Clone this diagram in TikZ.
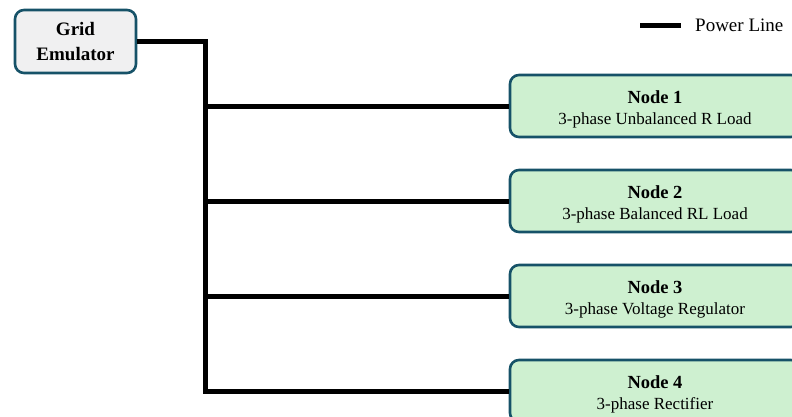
\documentclass[tikz,border=0pt]{standalone}
\usepackage{fontspec}
\setmainfont{Liberation Serif}
\definecolor{edgeteal}{RGB}{22,82,104}
\definecolor{nodegreen}{RGB}{206,240,208}
\definecolor{gridgray}{RGB}{240,240,241}
\tikzset{
  gridbox/.style={draw=edgeteal, line width=2.6pt, fill=gridgray, rounded corners=9pt,
    minimum width=121pt, minimum height=63pt, align=center, inner sep=0pt,
    font=\fontsize{19}{25}\selectfont\bfseries},
  loadbox/.style={draw=edgeteal, line width=2.6pt, fill=nodegreen, rounded corners=9pt,
    minimum width=290pt, minimum height=62pt, align=center, inner sep=0pt,
    font=\fontsize{17}{21}\selectfont},
  power/.style={line width=5pt, black},
}
% bold title line; the strut lowers the two-line block a little
\newcommand{\nodetitle}[1]{{\fontsize{18.5}{21}\selectfont\bfseries\rule{0pt}{19pt}#1}}
\begin{document}
\begin{tikzpicture}[x=1pt,y=-1pt]
\useasboundingbox (0,0) rectangle (792,416);
\clip (0,0) rectangle (792,416);
\node[gridbox] (grid) at (75.5,41.5) {Grid\\Emulator};
\node[loadbox] (n1) at (655,106) {\nodetitle{Node 1}\\3-phase Unbalanced R Load};
\node[loadbox] (n2) at (655,201) {\nodetitle{Node 2}\\3-phase Balanced RL Load};
\node[loadbox] (n3) at (655,296) {\nodetitle{Node 3}\\3-phase Voltage Regulator};
\node[loadbox] (n4) at (655,391) {\nodetitle{Node 4}\\3-phase Rectifier};
\coordinate (bus) at (205,0);
\draw[power] (grid.east) -| (bus |- n4.west) -- (n4.west);
\draw[power] (bus |- n1.west) -- (n1.west);
\draw[power] (bus |- n2.west) -- (n2.west);
\draw[power] (bus |- n3.west) -- (n3.west);
% legend
\coordinate (lgA) at (640,25);
\coordinate (lgB) at (681,25);
\draw[power] (lgA) -- (lgB);
\node[anchor=west, font=\fontsize{19}{22}\selectfont, inner sep=0pt] (lgtext) at (695,25) {Power Line};
\end{tikzpicture}
\end{document}
